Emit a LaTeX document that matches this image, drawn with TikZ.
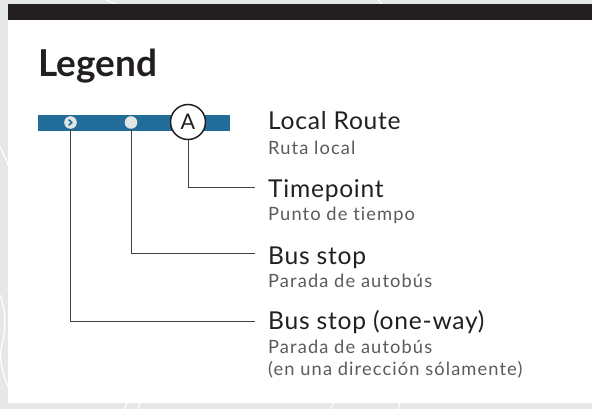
\documentclass[tikz,border=0pt]{standalone}
\usepackage{fontspec}
\setmainfont{Lato}[Ligatures=NoCommon]
\definecolor{bggray}{HTML}{E6E7E8}
\definecolor{ink}{HTML}{231F20}
\definecolor{subink}{HTML}{5A5B5D}
\definecolor{routeblue}{HTML}{216C99}
\definecolor{stopgray}{HTML}{E3E4E5}
\tikzset{
  title/.style={anchor=base west, inner sep=0pt, text=ink, font=\fontsize{37}{44}\selectfont\bfseries},
  mainlabel/.style={anchor=base west, inner sep=0pt, text=ink, font=\fontsize{24.6}{28}\selectfont\addfontfeature{LetterSpace=3}},
  sublabel/.style={anchor=base west, inner sep=0pt, text=subink, font=\fontsize{18.3}{20}\selectfont\addfontfeature{LetterSpace=6}},
  stopdot/.style={circle, fill=stopgray, minimum size=12.6pt, inner sep=0pt},
  timepointcircle/.style={circle, draw=ink, line width=1.5pt, fill=white, minimum size=35pt, inner sep=0pt, text=ink, font=\fontsize{21.5}{24}\selectfont},
  leader/.style={draw=ink!85, line width=1pt},
  street/.style={draw=white, line width=1.2pt}
}
\begin{document}
\begin{tikzpicture}[x=1pt,y=-1pt]
\useasboundingbox (0,0) rectangle (592,409);
% background map
\fill[bggray] (0,0) rectangle (592,409);
\draw[street] (95,-5) .. controls (115,3) and (130,10) .. (145,30);
\draw[street] (375,-5) .. controls (380,2) and (385,8) .. (392,20);
\draw[street] (-5,140) .. controls (3,150) and (6,160) .. (12,175);
\draw[street] (-5,285) .. controls (4,300) and (8,320) .. (2,345) .. controls (-2,360) and (4,380) .. (12,395);
\draw[street] (118,420) .. controls (124,410) and (128,402) .. (130,395);
\draw[street] (135,420) .. controls (138,410) and (140,402) .. (142,395);
\draw[street] (325,420) .. controls (330,410) and (334,402) .. (338,395);
\draw[street] (395,420) .. controls (398,410) and (400,402) .. (402,395);
% panel
\fill[white] (8,4) rectangle (592,403);
\fill[ink] (8,4) rectangle (592,20);
% title
\node[title] (legend) at (38,77) {Legend};
% route bar
\fill[routeblue] (38,115) rectangle (230,131);
\node[stopdot] (oneway) at (70.5,122.5) {};
\draw[routeblue, line width=1.6pt, line cap=round, line join=round]
  ([xshift=-1.6pt,yshift=2.6pt]oneway.center) -- ([xshift=1.4pt]oneway.center) -- ([xshift=-1.6pt,yshift=-2.6pt]oneway.center);
\node[stopdot] (busstop) at (131,122.5) {};
\node[timepointcircle] (tp) at (188,122) {A};
% labels
\node[mainlabel] (lr) at (268,130) {Local Route};
\node[sublabel] (lrs) at (268,154.3) {Ruta local};
\node[mainlabel] (tpl) at (268,197.7) {Timepoint};
\node[sublabel] (tps) at (268,220) {Punto de tiempo};
\node[mainlabel] (bsl) at (268,264) {Bus stop};
\node[sublabel] (bss) at (268,287) {Parada de autobús};
\node[mainlabel] (owl) at (268,329.3) {Bus stop (one-way)};
\node[sublabel] (ows) at (268,353.3) {Parada de autobús};
\node[sublabel] (ows2) at (268,375) {(en una dirección sólamente)};
% leader lines
\coordinate (e1) at (255,188);
\coordinate (e2) at (255,253.3);
\coordinate (e3) at (255,321.7);
\draw[leader] (tp.south) |- (e1);
\draw[leader] (busstop.south) |- (e2);
\draw[leader] (oneway.south) |- (e3);
\end{tikzpicture}
\end{document}
